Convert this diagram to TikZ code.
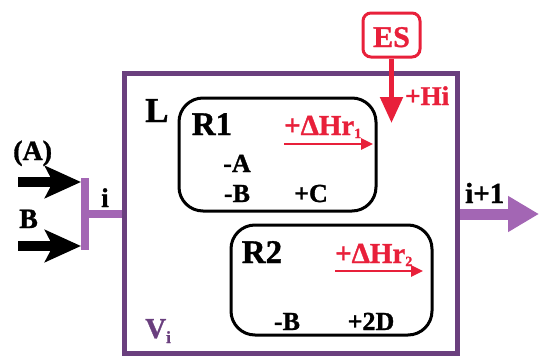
\documentclass[tikz,border=0pt]{standalone}
\usepackage{fontspec}
\setmainfont{Liberation Serif}[BoldFeatures={FakeBold=1.2}]
\usetikzlibrary{arrows.meta}
\definecolor{dpurple}{RGB}{106,63,126}
\definecolor{lpurple}{RGB}{163,102,180}
\definecolor{esred}{RGB}{232,32,58}
\newcommand{\fs}[1]{\fontsize{#1}{#1}\selectfont}
\begin{document}
\begin{tikzpicture}[x=1pt,y=-1pt,
  txt/.style={inner sep=0pt,font=\bfseries},
  rbox/.style={draw=black,line width=3pt,rounded corners=24pt,inner sep=0pt},
  smallarr/.style={draw=esred,line width=2.5pt,-{Triangle[length=12pt,width=11pt]}},
  feedarr/.style={draw=black,line width=10pt,-{Stealth[length=36pt,width=32pt,inset=8pt]}}]
\useasboundingbox (0,0) rectangle (539,356);
% main vessel
\node[draw=dpurple,line width=5pt,minimum width=332.5pt,minimum height=279.5pt,inner sep=0pt] (tank) at (290.75,213.25) {};
% reaction boxes
\node[rbox,minimum width=197pt,minimum height=113pt] (r1) at (277.5,154.5) {};
\node[rbox,minimum width=201pt,minimum height=110pt] (r2) at (331.5,280) {};
% ES box
\node[draw=esred,line width=3pt,rounded corners=8pt,minimum width=57pt,minimum height=44pt,inner sep=0pt] (es) at (391.5,35) {};
\node[txt,text=esred,anchor=base] (estxt) at (391.5,47) {\fs{30}ES};
\coordinate (heat) at (391.5,123);
\draw[esred,line width=5pt,-{Triangle[length=26pt,width=22pt]}] (es.south) -- (heat);
\node[txt,text=esred,anchor=base west] (hi) at (405,105) {\fs{27}+Hi};
% inlet manifold
\coordinate (mtop) at (85,178);
\coordinate (mbot) at (85,250);
\coordinate (mmid) at (85,214);
\draw[lpurple,line width=8pt] (mtop) -- (mbot);
\draw[lpurple,line width=8pt] (mmid) -- (tank.west |- mmid);
\coordinate (a0) at (18,182);
\coordinate (a1) at (81,182);
\coordinate (b0) at (18,246);
\coordinate (b1) at (81,246);
\draw[feedarr] (a0) -- (a1);
\draw[feedarr] (b0) -- (b1);
\node[txt,anchor=base west] (la) at (13,160) {\fs{28}(A)};
\node[txt,anchor=base west] (lb) at (19,228) {\fs{28}B};
\node[txt,anchor=base] (li) at (105,207) {\fs{27}i};
% outlet
\coordinate (out) at (539,214);
\draw[lpurple,line width=11pt,-{Triangle[length=31pt,width=34pt]}] (tank.east |- out) -- (out);
\node[txt,anchor=base west] (li1) at (465,203) {\fs{29}i+1};
% labels in tank
\node[txt,anchor=base west] (ll) at (145,122) {\fs{35}L};
\node[txt,text=dpurple,anchor=base west] (vi) at (145,338) {\fs{29}V\raisebox{-5pt}{\fs{17}i}};
% R1
\node[txt,anchor=base] (r1t) at (212,135) {\fs{33}R1};
\node[txt,text=esred,anchor=base west] (dh1) at (284,135) {\fs{29}+ΔHr\raisebox{-3pt}{\fs{14}1}};
\coordinate (d1a) at (284,144);
\coordinate (d1b) at (373,144);
\draw[smallarr] (d1a) -- (d1b);
\node[txt,anchor=base] (ma) at (237,172) {\fs{26}-A};
\node[txt,anchor=base] (mb) at (237,202) {\fs{26}-B};
\node[txt,anchor=base] (pc) at (311,202) {\fs{26}+C};
% R2
\node[txt,anchor=base] (r2t) at (262,263) {\fs{33}R2};
\node[txt,text=esred,anchor=base west] (dh2) at (335,263) {\fs{29}+ΔHr\raisebox{-3pt}{\fs{14}2}};
\coordinate (d2a) at (335,271);
\coordinate (d2b) at (423,271);
\draw[smallarr] (d2a) -- (d2b);
\node[txt,anchor=base] (mb2) at (287,330) {\fs{26}-B};
\node[txt,anchor=base] (p2d) at (371,330) {\fs{26}+2D};
\end{tikzpicture}
\end{document}
